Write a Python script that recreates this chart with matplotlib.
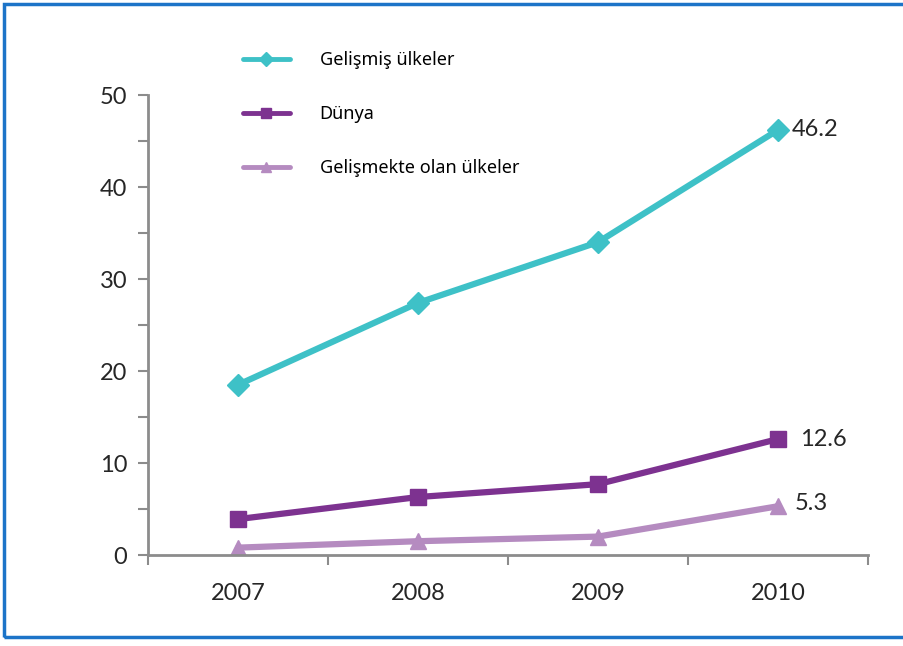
import numpy as np
import matplotlib
matplotlib.use("Agg")
import matplotlib.pyplot as plt
from matplotlib.patches import Rectangle
from matplotlib.ticker import MultipleLocator, FixedLocator, NullFormatter

plt.rcParams["font.family"] = ["Lato", "DejaVu Sans"]

YEARS = ["2007", "2008", "2009", "2010"]
GELISMIS = [18.5, 27.4, 34.0, 46.2]
DUNYA = [3.9, 6.3, 7.7, 12.6]
GELISMEKTE = [0.8, 1.5, 2.0, 5.3]
END_LABELS = ["46.2", "12.6", "5.3"]

SERIES = [
    ("Gelişmiş ülkeler", GELISMIS, "#3EC1C7", "D", 11),
    ("Dünya", DUNYA, "#7D3290", "s", 12),
    ("Gelişmekte olan ülkeler", GELISMEKTE, "#B58BC0", "^", 12),
]
LABEL_OFFSETS = [(10, 0), (16, 0), (12, 2)]

fig = plt.figure(figsize=(9.04, 6.46), dpi=100)
ax = fig.add_axes([148 / 904, 1 - 555 / 646, (868 - 148) / 904, 460 / 646])

x = np.arange(len(YEARS))
for (name, vals, color, marker, ms), txt, off in zip(SERIES, END_LABELS, LABEL_OFFSETS):
    ax.plot(x, vals, color=color, lw=4.5, marker=marker, ms=ms, label=name,
            solid_capstyle="round")
    ax.annotate(txt, (x[-1], vals[-1]), xytext=off, textcoords="offset points",
                ha="left", va="center", fontsize=17, color="#262626")

ax.set_xlim(-0.5, 3.5)
ax.set_ylim(0, 50)

# boundaries get the tick marks, category centres get the labels
ax.xaxis.set_major_locator(FixedLocator(np.arange(-0.5, 4.0, 1.0)))
ax.xaxis.set_major_formatter(NullFormatter())
ax.set_xticks(x, YEARS, minor=True)
ax.tick_params(axis="x", which="major", length=7, width=1.5, color="#8C8C8C")
ax.tick_params(axis="x", which="minor", length=0, pad=20, labelsize=17,
               labelcolor="#262626")

ax.yaxis.set_major_locator(MultipleLocator(10))
ax.yaxis.set_minor_locator(MultipleLocator(5))
ax.tick_params(axis="y", which="major", length=7, width=1.5, color="#8C8C8C",
               labelsize=17, labelcolor="#262626", pad=8)
ax.tick_params(axis="y", which="minor", length=7, width=1.5, color="#8C8C8C")

for side in ("top", "right"):
    ax.spines[side].set_visible(False)
for side in ("left", "bottom"):
    ax.spines[side].set_color("#8C8C8C")
    ax.spines[side].set_linewidth(2)

leg = fig.legend(loc="upper left", bbox_to_anchor=(243 / 904, 1 - 51 / 646),
                 frameon=False, handlelength=2.6, handletextpad=1.65,
                 labelspacing=2.0, borderpad=0, borderaxespad=0, markerscale=0.65,
                 prop={"family": ["Noto Sans", "DejaVu Sans"], "size": 13})
for h in leg.legend_handles:
    h.set_linewidth(3.5)

# blue frame around the whole picture
fig.patches.append(Rectangle((4 / 904, 1 - 637 / 646), 1.0, 633 / 646,
                             transform=fig.transFigure, fill=False,
                             edgecolor="#1C74C8", lw=2.5))

fig.savefig("out.png", dpi=100)
